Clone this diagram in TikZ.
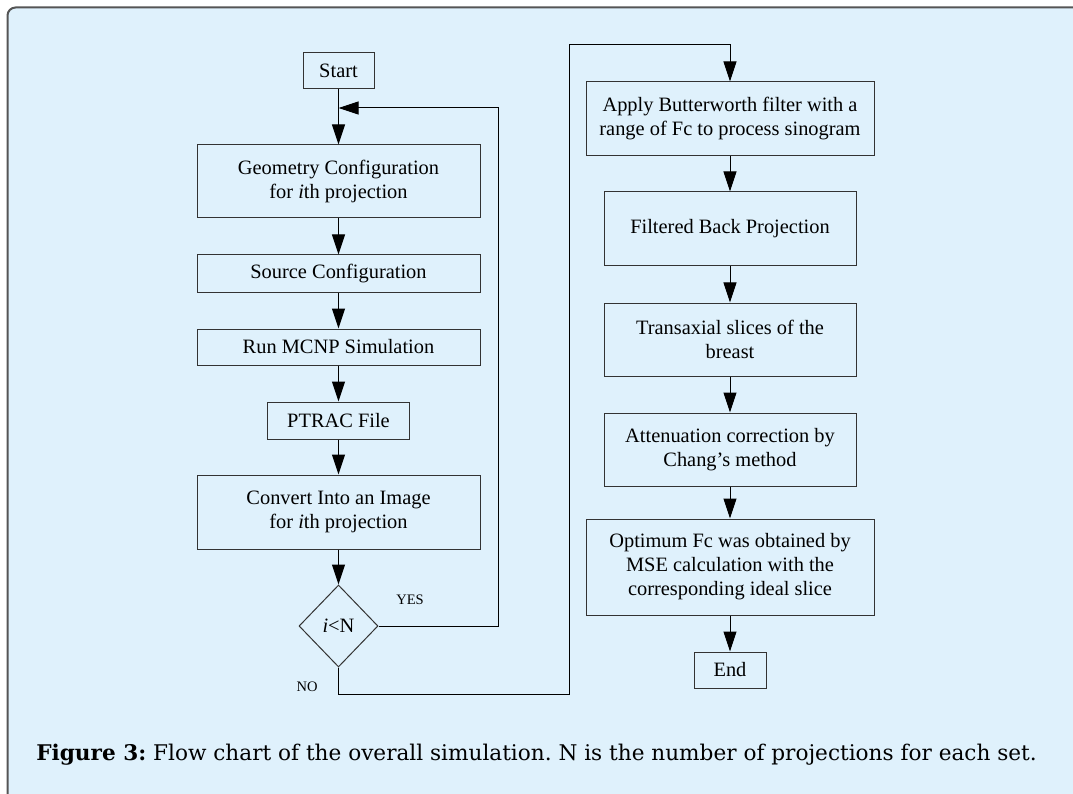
\documentclass[tikz,border=0pt]{standalone}
\usepackage{fontspec}
\setmainfont{Liberation Serif}
\newfontfamily\capfont{DejaVu Serif}
\usetikzlibrary{arrows.meta,shapes.geometric}
\definecolor{panelbg}{HTML}{DFF1FC}
\definecolor{panelline}{HTML}{555555}
\definecolor{boxline}{HTML}{333333}
\frenchspacing
\begin{document}
\begin{tikzpicture}[x=1pt,y=-1pt,
  box/.style={draw=boxline, line width=1pt, rectangle, inner sep=0pt, align=center,
    font=\fontsize{20.4}{24}\selectfont},
  dec/.style={draw=boxline, line width=1pt, diamond, inner sep=0pt,
    minimum width=79pt, minimum height=82pt, font=\fontsize{20.4}{24}\selectfont},
  flow/.style={draw=black, line width=1pt, -{Triangle[length=20pt,width=13pt]}},
  plain/.style={draw=black, line width=1pt},
  lbl/.style={font=\fontsize{14.5}{16}\selectfont},
  captext/.style={font=\capfont\fontsize{21.6}{26}\selectfont, anchor=base}]
\useasboundingbox (0,0) rectangle (1073,794);
\begin{scope}
  \clip (0,0) rectangle (1073,794);
  \draw[panelline, line width=2pt, fill=panelbg, rounded corners=8pt] (7.5,7.5) rectangle (1090,810);
\end{scope}

% left column
\node[box, minimum width=71pt, minimum height=36pt] (start) at (338.5,71) {Start};
\node[box, minimum width=283pt, minimum height=73pt] (geo) at (338.5,181.5) {Geometry Configuration\\for \textit{i}th projection};
\node[box, minimum width=283pt, minimum height=37pt] (src) at (338.5,273.5) {Source Configuration};
\node[box, minimum width=283pt, minimum height=36pt] (run) at (338.5,347) {Run MCNP Simulation};
\node[box, minimum width=142pt, minimum height=37pt] (ptrac) at (338.5,420.5) {PTRAC File};
\node[box, minimum width=283pt, minimum height=74pt] (conv) at (338.5,512) {Convert Into an Image\\for \textit{i}th projection};
\node[dec] (dia) at (338.5,626) {\textit{i}<N};

% right column
\node[box, minimum width=288pt, minimum height=74pt] (apply) at (730,119) {Apply Butterworth filter with a\\range of Fc to process sinogram};
\node[box, minimum width=252pt, minimum height=74pt] (fbp) at (730,229) {Filtered Back Projection};
\node[box, minimum width=252pt, minimum height=73pt] (trans) at (730,339.5) {Transaxial slices of the\\breast};
\node[box, minimum width=252pt, minimum height=73pt] (att) at (730,449.5) {Attenuation correction by\\Chang’s method};
\node[box, minimum width=288pt, minimum height=96pt] (opt) at (730,567) {Optimum Fc was obtained by\\MSE calculation with the\\corresponding ideal slice};
\node[box, minimum width=72pt, minimum height=36pt] (end) at (730,670) {End};

% helper coordinates
\coordinate (merge) at (338.5,108);
\coordinate (yesc) at (498,108);
\coordinate (no1) at (569,694);
\coordinate (no2) at (569,45);

% connectors
\draw[plain] (start) -- (merge);
\draw[flow] (merge) -- (geo);
\draw[flow] (geo) -- (src);
\draw[flow] (src) -- (run);
\draw[flow] (run) -- (ptrac);
\draw[flow] (ptrac) -- (conv);
\draw[flow] (conv) -- (dia.north);
\draw[flow] (dia.east) -| (yesc) -- (merge);
\draw[flow] (dia.south) |- (no1) -- (no2) -| (apply.north);
\draw[flow] (apply) -- (fbp);
\draw[flow] (fbp) -- (trans);
\draw[flow] (trans) -- (att);
\draw[flow] (att) -- (opt);
\draw[flow] (opt) -- (end);

\node[lbl] (yes) at (410,600) {YES};
\node[lbl] (no) at (307,687) {NO};

\node[captext] (caption) at (536.5,760) {\textbf{Figure 3:} Flow chart of the overall simulation. N is the number of projections for each set.};
\end{tikzpicture}
\end{document}
